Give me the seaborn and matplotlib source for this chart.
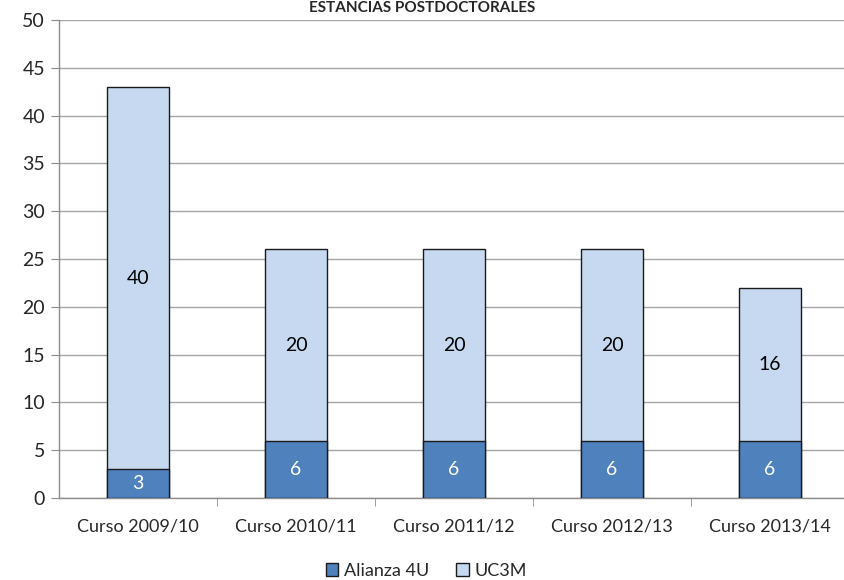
import numpy as np
import pandas as pd
import seaborn as sns
import matplotlib.pyplot as plt
from matplotlib.patches import Patch

# Datos
cursos = ['Curso 2009/10', 'Curso 2010/11', 'Curso 2011/12', 'Curso 2012/13', 'Curso 2013/14']
alianza = [3, 6, 6, 6, 6]
uc3m = [40, 20, 20, 20, 16]

df = pd.DataFrame({'curso': cursos, 'Alianza 4U': alianza, 'UC3M': uc3m})
df['total'] = df['Alianza 4U'] + df['UC3M']

sns.set_style('white')
plt.rcParams['font.family'] = ['Lato', 'DejaVu Sans']

C_DARK = '#4F81BD'
C_LIGHT = '#C6D9F1'

fig = plt.figure(figsize=(8.44, 5.80), dpi=100)
ax = fig.add_axes([0.0699, 0.1414, 0.936, 0.824])

# total first (light) then base (dark) on top
sns.barplot(data=df, x='curso', y='total', color=C_LIGHT, width=0.39, saturation=1,
            edgecolor='#1a1a1a', linewidth=1, ax=ax, zorder=3)
sns.barplot(data=df, x='curso', y='Alianza 4U', color=C_DARK, width=0.39, saturation=1,
            edgecolor='#1a1a1a', linewidth=1, ax=ax, zorder=4)

for i, (a, u) in enumerate(zip(alianza, uc3m)):
    ax.text(i, a / 2, str(a), ha='center', va='center', color='white', fontsize=14, zorder=5)
    ax.text(i, a + u / 2, str(u), ha='center', va='center', color='black', fontsize=14, zorder=5)

ax.set_ylim(0, 50)
ax.set_yticks(range(0, 51, 5))
ax.set_xlim(-0.5, 4.5)
ax.yaxis.grid(True, color='#a6a6a6', linewidth=1, zorder=0)
ax.set_axisbelow(True)
ax.set_xlabel('')
ax.set_ylabel('')

for s in ['top', 'right']:
    ax.spines[s].set_visible(False)
for s in ['left', 'bottom']:
    ax.spines[s].set_color('#8c8c8c')
    ax.spines[s].set_linewidth(1)

ax.tick_params(axis='y', left=True, length=6, color='#8c8c8c', labelsize=14, pad=4)
ax.tick_params(axis='x', bottom=False, labelsize=13, pad=11)
ax.set_xticks(np.arange(0.5, 4.5, 1), minor=True)
ax.tick_params(axis='x', which='minor', bottom=True, length=6, color='#8c8c8c')

fig.text(0.5, 0.999, 'ESTANCIAS POSTDOCTORALES', ha='center', va='top',
         fontsize=11, fontweight='bold')

handles = [Patch(facecolor=C_DARK, edgecolor='#1a1a1a', label='Alianza 4U'),
           Patch(facecolor=C_LIGHT, edgecolor='#1a1a1a', label='UC3M')]
fig.legend(handles=handles, loc='center', bbox_to_anchor=(0.505, 0.016), ncol=2,
           frameon=False, fontsize=13, handlelength=0.7, handleheight=0.7,
           handletextpad=0.3, columnspacing=1.5, borderpad=0.1)

fig.savefig('out.png', dpi=100)
